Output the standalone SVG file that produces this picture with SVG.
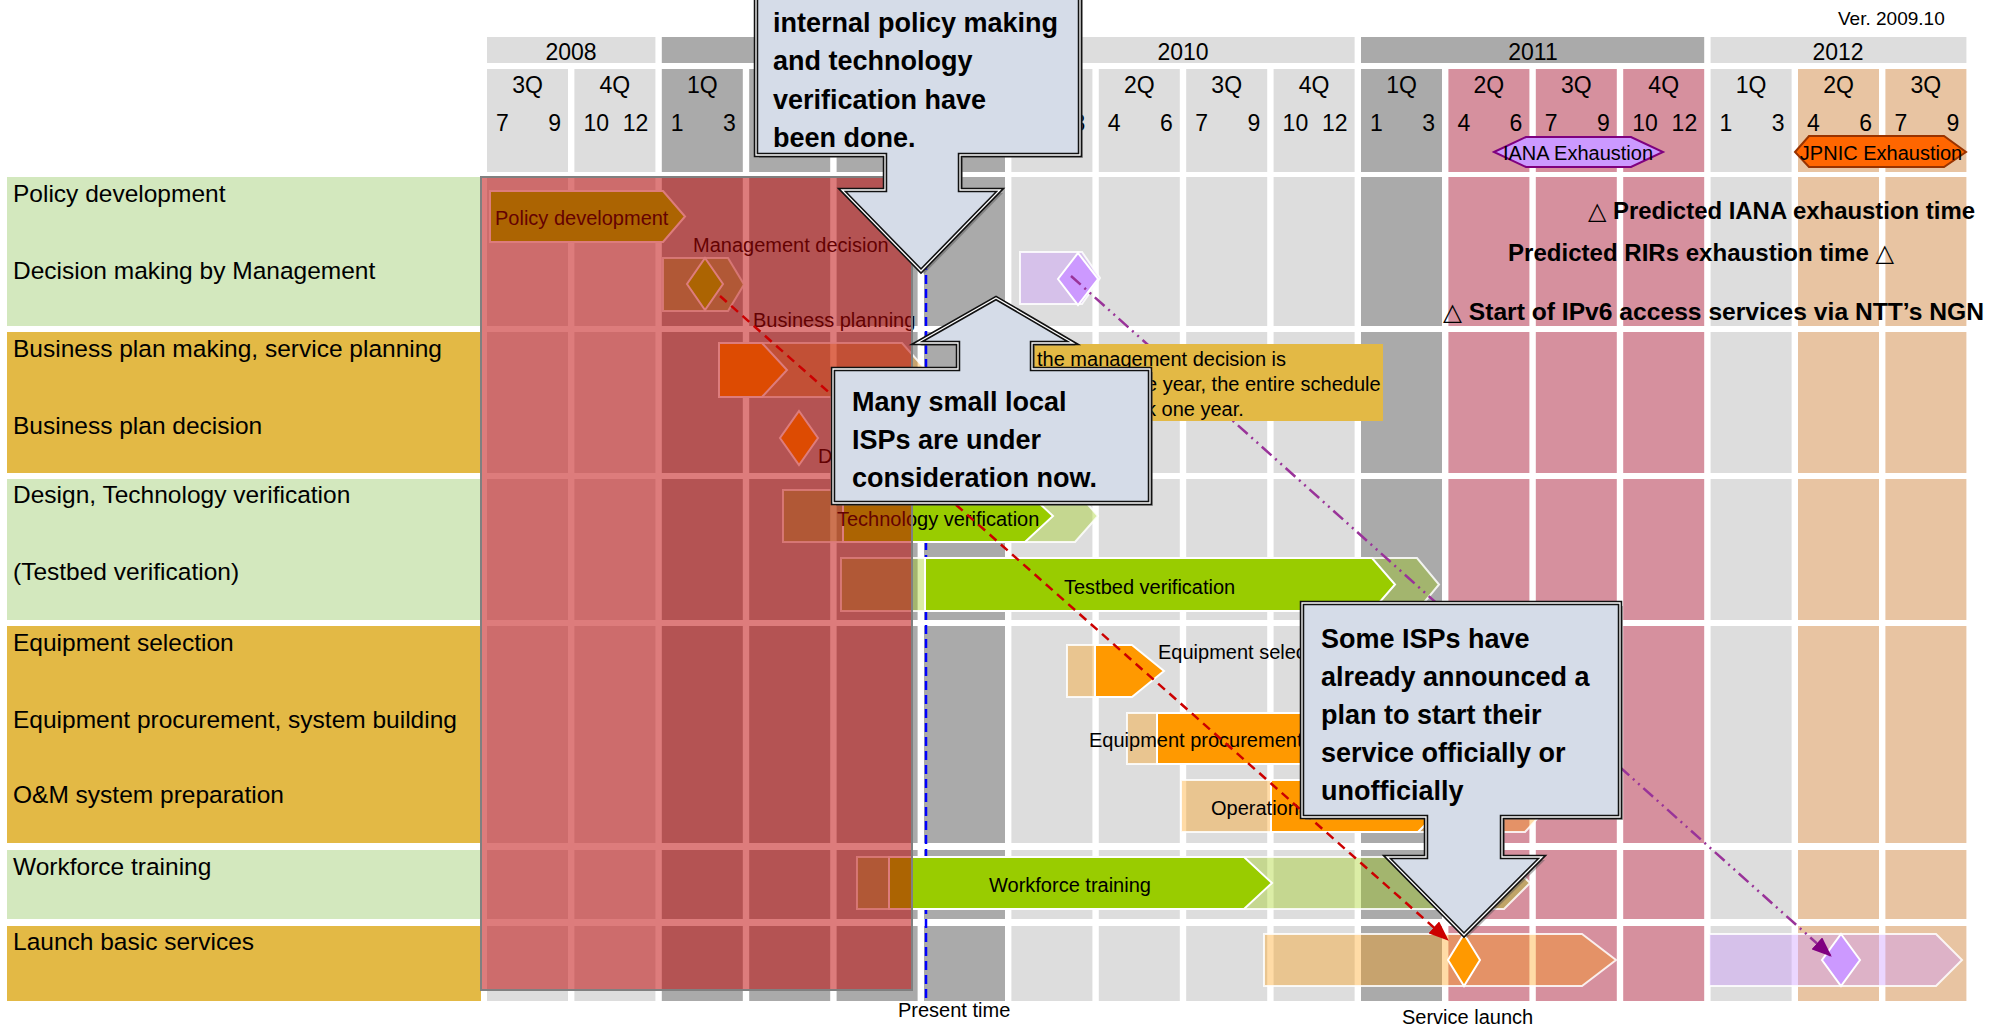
<svg xmlns="http://www.w3.org/2000/svg" width="1993" height="1027" viewBox="0 0 1993 1027">
<defs>
<style>
text{font-family:"Liberation Sans",Arial,sans-serif;fill:#000}
.lab{font-size:24.5px}
.hdr{font-size:23px}
.hm{font-size:23px;text-anchor:middle}
.he{font-size:23px;text-anchor:end}
.bl{font-size:20px}
.co{font-size:27px;font-weight:bold}
.ann{font-size:24px;font-weight:bold;font-family:"Liberation Sans","DejaVu Sans",sans-serif}
.cl{fill:#DDDDDD}.cd{fill:#AAAAAA}.cp{fill:#D6909E}.ce{fill:#E8C4A2}
.pg{fill:#D3E8BE}.py{fill:#E3B945}
.gap{fill:#FFFFFF}
.sg{fill:#99CC00;stroke:#fff;stroke-width:2}
.so{fill:#FF9900;stroke:#fff;stroke-width:2}
.sp{fill:#CC99FF;stroke:#fff;stroke-width:2}
.gg{fill:#99CC00;fill-opacity:.35;stroke:#fff;stroke-opacity:.85;stroke-width:2}
.go{fill:#FF9900;fill-opacity:.35;stroke:#fff;stroke-opacity:.85;stroke-width:2}
.gp{fill:#CC99FF;fill-opacity:.4;stroke:#fff;stroke-opacity:.85;stroke-width:2}
.cshadow{fill:#555;fill-opacity:.45}
.cbox{fill:#D5DCE8;stroke:#111;stroke-width:4.5}
.cin{fill:none;stroke:#fff;stroke-width:1.3}
</style>
<marker id="arR" markerUnits="userSpaceOnUse" markerWidth="20" markerHeight="16" refX="19" refY="8" orient="auto"><path d="M0,0 L20,8 L0,16 Z" fill="#CC0000"/></marker>
<marker id="arP" markerUnits="userSpaceOnUse" markerWidth="20" markerHeight="16" refX="19" refY="8" orient="auto"><path d="M0,0 L20,8 L0,16 Z" fill="#800080"/></marker>
<path id="c1" d="M756,-10 L1080,-10 L1080,155 L960,155 L960,190 L1000,190 L921,271 L842,190 L885,190 L885,155 L756,155 Z"/>
<path id="c2" d="M833,369 L958,369 L958,343 L917,343 L996,298 L1073,343 L1032,343 L1032,369 L1150,369 L1150,503 L833,503 Z"/>
<path id="c3" d="M1302,603 L1620,603 L1620,817 L1502,817 L1502,857 L1542,857 L1464,935 L1387,857 L1426,857 L1426,817 L1302,817 Z"/>
</defs>

<rect width="1993" height="1027" fill="#fff"/>

<g id="version"><text x="1838" y="25" font-size="19">Ver. 2009.10</text></g>

<g id="grid">
<rect class="cl" x="487" y="37" width="168.4" height="26"/>
<rect class="cd" x="661.8" y="37" width="343.2" height="26"/>
<rect class="cl" x="1011.4" y="37" width="343.2" height="26"/>
<rect class="cd" x="1361" y="37" width="343.2" height="26"/>
<rect class="cl" x="1710.6" y="37" width="255.8" height="26"/>
<rect class="cl" x="487" y="69" width="81" height="932"/>
<rect class="cl" x="574.4" y="69" width="81" height="932"/>
<rect class="cd" x="661.8" y="69" width="81" height="932"/>
<rect class="cd" x="749.2" y="69" width="81" height="932"/>
<rect class="cd" x="836.6" y="69" width="81" height="932"/>
<rect class="cd" x="924" y="69" width="81" height="932"/>
<rect class="cl" x="1011.4" y="69" width="81" height="932"/>
<rect class="cl" x="1098.8" y="69" width="81" height="932"/>
<rect class="cl" x="1186.2" y="69" width="81" height="932"/>
<rect class="cl" x="1273.6" y="69" width="81" height="932"/>
<rect class="cd" x="1361" y="69" width="81" height="932"/>
<rect class="cp" x="1448.4" y="69" width="81" height="932"/>
<rect class="cp" x="1535.8" y="69" width="81" height="932"/>
<rect class="cp" x="1623.2" y="69" width="81" height="932"/>
<rect class="cl" x="1710.6" y="69" width="81" height="932"/>
<rect class="ce" x="1798" y="69" width="81" height="932"/>
<rect class="ce" x="1885.4" y="69" width="81" height="932"/>
<rect class="gap" x="480" y="172" width="1500" height="5"/>
<rect class="gap" x="480" y="326" width="1500" height="6"/>
<rect class="gap" x="480" y="473" width="1500" height="6"/>
<rect class="gap" x="480" y="620" width="1500" height="6"/>
<rect class="gap" x="480" y="843" width="1500" height="7"/>
<rect class="gap" x="480" y="919" width="1500" height="7"/>
</g>

<g id="header-text">
<text class="hm" x="571" y="60">2008</text>
<text class="hm" x="1183" y="60">2010</text>
<text class="hm" x="1533" y="60">2011</text>
<text class="hm" x="1838" y="60">2012</text>
<text class="hm" x="527.5" y="93">3Q</text>
<text class="hm" x="614.9" y="93">4Q</text>
<text class="hm" x="702.3" y="93">1Q</text>
<text class="hm" x="1139.3" y="93">2Q</text>
<text class="hm" x="1226.7" y="93">3Q</text>
<text class="hm" x="1314.1" y="93">4Q</text>
<text class="hm" x="1401.5" y="93">1Q</text>
<text class="hm" x="1488.9" y="93">2Q</text>
<text class="hm" x="1576.3" y="93">3Q</text>
<text class="hm" x="1663.7" y="93">4Q</text>
<text class="hm" x="1751.1" y="93">1Q</text>
<text class="hm" x="1838.5" y="93">2Q</text>
<text class="hm" x="1925.9" y="93">3Q</text>
<text class="hdr" x="496" y="131">7</text><text class="he" x="561" y="131">9</text>
<text class="hdr" x="583.4" y="131">10</text><text class="he" x="648.4" y="131">12</text>
<text class="hdr" x="670.8" y="131">1</text><text class="he" x="735.8" y="131">3</text>
<text class="he" x="1085.4" y="131">3</text>
<text class="hdr" x="1107.8" y="131">4</text><text class="he" x="1172.8" y="131">6</text>
<text class="hdr" x="1195.2" y="131">7</text><text class="he" x="1260.2" y="131">9</text>
<text class="hdr" x="1282.6" y="131">10</text><text class="he" x="1347.6" y="131">12</text>
<text class="hdr" x="1370" y="131">1</text><text class="he" x="1435" y="131">3</text>
<text class="hdr" x="1457.4" y="131">4</text><text class="he" x="1522.4" y="131">6</text>
<text class="hdr" x="1544.8" y="131">7</text><text class="he" x="1609.8" y="131">9</text>
<text class="hdr" x="1632.2" y="131">10</text><text class="he" x="1697.2" y="131">12</text>
<text class="hdr" x="1719.6" y="131">1</text><text class="he" x="1784.6" y="131">3</text>
<text class="hdr" x="1807" y="131">4</text><text class="he" x="1872" y="131">6</text>
<text class="hdr" x="1894.4" y="131">7</text><text class="he" x="1959.4" y="131">9</text>
</g>

<g id="iana-exhaustion">
<path d="M1494,152 L1526,137 L1631,137 L1663,152 L1631,167 L1526,167 Z" fill="#CC99FF" stroke="#7F007F" stroke-width="2"/>
<text x="1578" y="160" font-size="20" text-anchor="middle">IANA Exhaustion</text>
</g>
<g id="jpnic-exhaustion">
<path d="M1795,152 L1809,136 L1944,136 L1966,152 L1944,167 L1809,167 Z" fill="#FF6600" stroke="#993300" stroke-width="2"/>
<text x="1881" y="160" font-size="20" text-anchor="middle">JPNIC Exhaustion</text>
</g>

<g id="row-labels">
<rect class="pg" x="7" y="177" width="474" height="149"/>
<rect class="py" x="7" y="332" width="474" height="141"/>
<rect class="pg" x="7" y="479" width="474" height="141"/>
<rect class="py" x="7" y="626" width="474" height="217"/>
<rect class="pg" x="7" y="850" width="474" height="69"/>
<rect class="py" x="7" y="926" width="474" height="75"/>
<text class="lab" x="13" y="202">Policy development</text>
<text class="lab" x="13" y="279">Decision making by Management</text>
<text class="lab" x="13" y="357">Business plan making, service planning</text>
<text class="lab" x="13" y="434">Business plan decision</text>
<text class="lab" x="13" y="503">Design, Technology verification</text>
<text class="lab" x="13" y="580">(Testbed verification)</text>
<text class="lab" x="13" y="651">Equipment selection</text>
<text class="lab" x="13" y="728">Equipment procurement, system building</text>
<text class="lab" x="13" y="803">O&amp;M system preparation</text>
<text class="lab" x="13" y="875">Workforce training</text>
<text class="lab" x="13" y="950">Launch basic services</text>
</g>

<g id="present-time">
<line x1="926" y1="177" x2="926" y2="998" stroke="#0000FF" stroke-width="2.5" stroke-dasharray="9 5"/>
<text x="898" y="1017" font-size="20">Present time</text>
</g>

<g id="bar-policy">
<path class="sg" d="M490,191 H663 L685,216.5 L663,242 H490 Z"/>
<text class="bl" x="495" y="225">Policy development</text>
</g>
<g id="bar-management-decision">
<path class="gg" d="M663,258 H728 L744,284.5 L728,311 H663 Z"/>
<path class="sg" d="M705,258 L723,284 L705,310 L687,284 Z"/>
<text class="bl" x="693" y="252">Management decision</text>
</g>
<g id="bar-delayed-decision">
<path class="gp" d="M1020,252 H1082 L1100,278 L1082,304 H1020 Z"/>
<path class="sp" d="M1078,253 L1098,279 L1078,305 L1058,279 Z"/>
</g>
<g id="bar-business-planning">
<path class="go" d="M719,343 H902 L926,370 L902,397 H719 Z"/>
<path class="so" d="M719,343 H762 L787,370 L762,397 H719 Z"/>
<text class="bl" x="753" y="327">Business planning</text>
</g>
<g id="bar-business-decision">
<path class="so" d="M799,411 L818,438 L799,465 L780,438 Z"/>
<text class="bl" x="818" y="463">D</text>
</g>
<g id="bar-technology">
<path class="gg" d="M783,490 H1075 L1098,516 L1075,542 H783 Z"/>
<path class="sg" d="M843,490 H1025 L1053,516 L1025,542 H843 Z"/>
<text class="bl" x="837" y="526">Technology verification</text>
</g>
<g id="bar-testbed">
<path class="gg" d="M841,558 H1417 L1439,584.5 L1417,611 H841 Z"/>
<path class="sg" d="M925,558 H1372 L1395,584.5 L1372,611 H925 Z"/>
<text class="bl" x="1064" y="594">Testbed verification</text>
</g>
<g id="bar-equipment-selection">
<path class="go" d="M1067,645 H1102 L1130,671 L1102,697 H1067 Z"/>
<path class="so" d="M1095,645 H1132 L1164,671 L1132,697 H1095 Z"/>
<text class="bl" x="1158" y="659">Equipment selec</text>
</g>
<g id="bar-equipment-procurement">
<path class="go" d="M1127,713 H1345 L1370,738.5 L1345,764 H1127 Z"/>
<path class="so" d="M1157,713 H1375 L1400,738.5 L1375,764 H1157 Z"/>
<text class="bl" x="1089" y="747">Equipment procurement</text>
</g>
<g id="bar-operational">
<path class="go" d="M1181,780 H1525 L1549,806 L1525,832 H1181 Z"/>
<path class="so" d="M1271,780 H1418 L1444,806 L1418,832 H1271 Z"/>
<text class="bl" x="1211" y="815">Operationa</text>
</g>
<g id="bar-workforce">
<path class="gg" d="M857,857 H1504 L1530,883 L1504,909 H857 Z"/>
<path class="sg" d="M889,857 H1244 L1272,883 L1244,909 H889 Z"/>
<text class="bl" x="989" y="892">Workforce training</text>
</g>
<g id="bar-launch">
<path class="go" d="M1264,934 H1582 L1616,960 L1582,986 H1264 Z"/>
<path class="so" d="M1464,934 L1480,960 L1464,986 L1448,960 Z"/>
<path class="gp" d="M1709,934 H1936 L1962,960 L1936,986 H1709 Z"/>
<path class="sp" d="M1841,934 L1860,960 L1841,986 L1822,960 Z"/>
<text x="1402" y="1024" font-size="20">Service launch</text>
</g>

<g id="past-overlay">
<rect x="481" y="177" width="431" height="813" fill="#BE0404" fill-opacity=".52" stroke="#808080" stroke-width="2"/>
</g>

<g id="connectors">
<line x1="720" y1="296" x2="1448" y2="940" stroke="#CC0000" stroke-width="2.5" stroke-dasharray="9 6" marker-end="url(#arR)"/>
<line x1="1071" y1="276" x2="1831" y2="956" stroke="#993399" stroke-width="2.5" stroke-dasharray="13 5 2 5 2 5" marker-end="url(#arP)"/>
</g>

<g id="note-delay">
<rect x="1033" y="344" width="350" height="77" fill="#E3B945"/>
<text class="bl" x="1037" y="366">the management decision is</text>
<text class="bl" x="1146" y="391">e year, the entire schedule</text>
<text class="bl" x="1146" y="416">k one year.</text>
</g>

<g id="callout-policy">
<use href="#c1" class="cshadow" transform="translate(3,3)"/>
<use href="#c1" class="cbox"/>
<use href="#c1" class="cin"/>
<text class="co" x="773" y="32">internal policy making</text>
<text class="co" x="773" y="70">and technology</text>
<text class="co" x="773" y="109">verification have</text>
<text class="co" x="773" y="147">been done.</text>
</g>

<g id="callout-small-isps">
<use href="#c2" class="cshadow" transform="translate(3,3)"/>
<use href="#c2" class="cbox"/>
<use href="#c2" class="cin"/>
<text class="co" x="852" y="411">Many small local</text>
<text class="co" x="852" y="449">ISPs are under</text>
<text class="co" x="852" y="487">consideration now.</text>
</g>

<g id="callout-some-isps">
<use href="#c3" class="cshadow" transform="translate(3,3)"/>
<use href="#c3" class="cbox"/>
<use href="#c3" class="cin"/>
<text class="co" x="1321" y="648">Some ISPs have</text>
<text class="co" x="1321" y="686">already announced a</text>
<text class="co" x="1321" y="724">plan to start their</text>
<text class="co" x="1321" y="762">service officially or</text>
<text class="co" x="1321" y="800">unofficially</text>
</g>

<g id="annotations">
<text class="ann" x="1588" y="219" textLength="387" lengthAdjust="spacingAndGlyphs">△ Predicted IANA exhaustion time</text>
<text class="ann" x="1508" y="261" textLength="386" lengthAdjust="spacingAndGlyphs">Predicted RIRs exhaustion time △</text>
<text class="ann" x="1443" y="320" textLength="541" lengthAdjust="spacingAndGlyphs">△ Start of IPv6 access services via NTT’s NGN</text>
</g>
</svg>
